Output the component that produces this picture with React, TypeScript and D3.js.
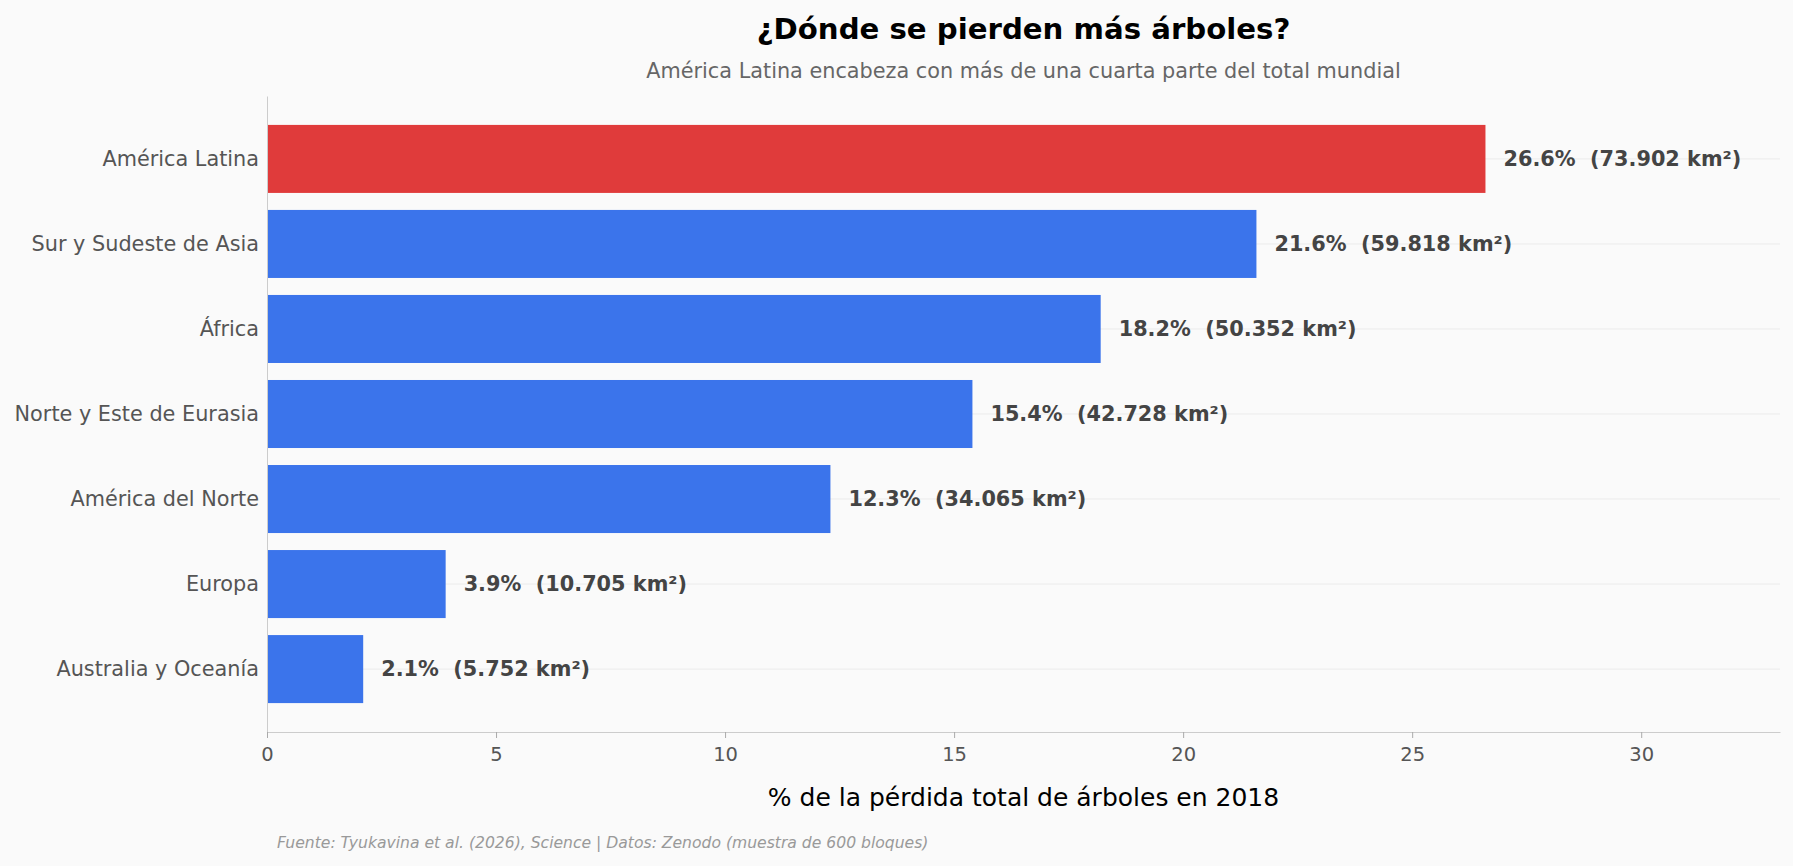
import React, { useEffect, useRef } from 'react'
import * as d3 from 'd3'

const regions = [
  'América Latina',
  'Sur y Sudeste de Asia',
  'África',
  'Norte y Este de Eurasia',
  'América del Norte',
  'Europa',
  'Australia y Oceanía',
]
const percents = [26.6, 21.6, 18.2, 15.4, 12.3, 3.9, 2.1]
const areasKm2 = ['73.902', '59.818', '50.352', '42.728', '34.065', '10.705', '5.752']
const xTicks = [0, 5, 10, 15, 20, 25, 30]

const W = 1793
const H = 866
const FONT = 'DejaVu Sans, sans-serif'

export default function App() {
  const ref = useRef<SVGSVGElement | null>(null)

  useEffect(() => {
    const svg = d3.select(ref.current)
    svg.selectAll('*').remove()

    const margin = { top: 96, bottom: 134, left: 267, right: 13 }

    svg.append('rect').attr('width', W).attr('height', H).attr('fill', '#fafafa')

    const x = d3.scaleLinear().domain([0, 33.03]).range([margin.left, W - margin.right])
    const y = d3.scaleBand()
      .domain(regions)
      .range([margin.top, H - margin.bottom])
      .paddingInner(0.2)
      .paddingOuter(0.34)

    // grid lines
    svg.append('g')
      .selectAll('line')
      .data(regions)
      .join('line')
      .attr('x1', margin.left)
      .attr('x2', W - margin.right)
      .attr('y1', d => y(d)! + y.bandwidth() / 2)
      .attr('y2', d => y(d)! + y.bandwidth() / 2)
      .attr('stroke', '#ebebeb')
      .attr('stroke-width', 1)

    // bars
    svg.append('g')
      .selectAll('rect')
      .data(percents)
      .join('rect')
      .attr('x', x(0))
      .attr('y', (d, i) => y(regions[i])!)
      .attr('width', d => x(d) - x(0))
      .attr('height', y.bandwidth())
      .attr('fill', (d, i) => (i === 0 ? '#e03b3b' : '#3b74eb'))

    // value labels
    svg.append('g')
      .selectAll('text')
      .data(percents)
      .join('text')
      .attr('x', d => x(d) + 18)
      .attr('y', (d, i) => y(regions[i])! + y.bandwidth() / 2)
      .attr('dy', '0.35em')
      .attr('font-family', FONT)
      .attr('font-size', 20.8)
      .attr('font-weight', 'bold')
      .attr('fill', '#444')
      .style('white-space', 'pre')
      .text((d, i) => `${d.toFixed(1)}%  (${areasKm2[i]} km²)`)

    // y axis
    const yAxis = svg.append('g')
      .attr('transform', `translate(${margin.left},0)`)
      .call(d3.axisLeft(y).tickSize(0).tickPadding(8))
    yAxis.select('.domain').attr('stroke', '#cccccc')
    yAxis.selectAll('text')
      .attr('font-family', FONT)
      .attr('font-size', 20.8)
      .attr('fill', '#555')

    // x axis
    const xAxis = svg.append('g')
      .attr('transform', `translate(0,${H - margin.bottom})`)
      .call(d3.axisBottom(x).tickValues(xTicks).tickSize(6).tickPadding(9).tickSizeOuter(0))
    xAxis.select('.domain').attr('stroke', '#cccccc')
    xAxis.selectAll('.tick line').attr('stroke', '#aaaaaa')
    xAxis.selectAll('text')
      .attr('font-family', FONT)
      .attr('font-size', 19.5)
      .attr('fill', '#555')

    // x label
    svg.append('text')
      .attr('x', (margin.left + W - margin.right) / 2)
      .attr('y', 797)
      .attr('dy', '0.35em')
      .attr('text-anchor', 'middle')
      .attr('font-family', FONT)
      .attr('font-size', 25)
      .attr('fill', '#000')
      .text('% de la pérdida total de árboles en 2018')

    // title
    svg.append('text')
      .attr('x', (margin.left + W - margin.right) / 2)
      .attr('y', 29)
      .attr('dy', '0.35em')
      .attr('text-anchor', 'middle')
      .attr('font-family', FONT)
      .attr('font-size', 29.2)
      .attr('font-weight', 'bold')
      .attr('fill', '#000')
      .text('¿Dónde se pierden más árboles?')

    svg.append('text')
      .attr('x', (margin.left + W - margin.right) / 2)
      .attr('y', 71)
      .attr('dy', '0.35em')
      .attr('text-anchor', 'middle')
      .attr('font-family', FONT)
      .attr('font-size', 20.8)
      .attr('fill', '#666')
      .text('América Latina encabeza con más de una cuarta parte del total mundial')

    // source
    svg.append('text')
      .attr('x', 277)
      .attr('y', 843)
      .attr('dy', '0.35em')
      .attr('font-family', FONT)
      .attr('font-size', 15.6)
      .attr('font-style', 'italic')
      .attr('fill', '#999')
      .text('Fuente: Tyukavina et al. (2026), Science | Datos: Zenodo (muestra de 600 bloques)')
  }, [])

  return (
    <svg
      ref={ref}
      width={W}
      height={H}
      style={{ position: 'absolute', left: 0, top: 0, display: 'block' }}
    />
  )
}
